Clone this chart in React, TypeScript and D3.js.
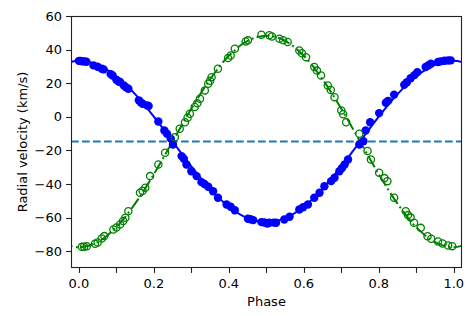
import { useEffect, useRef } from "react";
import * as d3 from "d3";

// observed points, primary star (filled blue)
const primaryPhase = [
  0.0, 0.005, 0.01, 0.015, 0.02, 0.039, 0.05, 0.061, 0.066, 0.085, 0.09, 0.1, 0.106, 0.11, 0.12, 0.126,
  0.132, 0.16, 0.165, 0.17, 0.182, 0.186, 0.212, 0.228, 0.235, 0.245, 0.251, 0.274, 0.28, 0.287, 0.3,
  0.314, 0.327, 0.335, 0.345, 0.358, 0.371, 0.394, 0.405, 0.416, 0.451, 0.458, 0.465, 0.487, 0.495,
  0.503, 0.508, 0.52, 0.526, 0.548, 0.562, 0.588, 0.598, 0.611, 0.628, 0.642, 0.655, 0.673, 0.682,
  0.695, 0.702, 0.709, 0.718, 0.748, 0.759, 0.765, 0.777, 0.801, 0.819, 0.825, 0.841, 0.868, 0.875,
  0.885, 0.895, 0.903, 0.925, 0.932, 0.939, 0.958, 0.965, 0.975, 0.985, 0.992,
];
const primaryRV = [
  33.3, 33.2, 33.0, 33.0, 32.8, 30.6, 29.8, 28.6, 28.2, 25.4, 24.6, 22.0, 21.0, 20.7, 18.6, 17.5,
  16.7, 9.8, 8.6, 7.8, 6.8, 6.4, -2.8, -8.1, -10.1, -13.0, -16.5, -23.4, -25.0, -28.4, -32.4,
  -35.3, -38.9, -40.0, -41.6, -44.3, -48.2, -52.2, -53.5, -55.6, -60.7, -61.0, -61.5, -62.7, -62.9,
  -63.5, -63.1, -63.0, -63.1, -61.1, -59.5, -55.2, -53.8, -52.2, -48.2, -45.2, -41.3, -38.3, -36.3,
  -32.4, -30.5, -28.4, -25.4, -16.5, -14.5, -8.1, -3.2, 2.2, 8.4, 9.5, 13.2, 19.1, 20.6,
  23.0, 24.8, 26.6, 29.6, 30.5, 31.6, 32.6, 33.0, 33.4, 33.5, 33.6,
];

// observed points, secondary star (open green)
const secondaryPhase = [
  0.008, 0.014, 0.021, 0.043, 0.05, 0.061, 0.068, 0.092, 0.1, 0.11, 0.118, 0.124, 0.132, 0.163, 0.17,
  0.177, 0.19, 0.212, 0.23, 0.256, 0.269, 0.283, 0.29, 0.296, 0.309, 0.316, 0.323, 0.336, 0.345,
  0.35, 0.354, 0.371, 0.398, 0.405, 0.416, 0.445, 0.451, 0.487, 0.508, 0.515, 0.535, 0.545, 0.557,
  0.588, 0.595, 0.606, 0.628, 0.635, 0.646, 0.664, 0.672, 0.682, 0.7, 0.705, 0.713, 0.748, 0.77,
  0.779, 0.801, 0.815, 0.823, 0.841, 0.872, 0.878, 0.885, 0.894, 0.912, 0.93, 0.94, 0.958, 0.97,
  0.985, 0.996,
];
const secondaryRV = [
  -77.4, -77.3, -77.0, -75.6, -74.8, -72.4, -71.0, -67.1, -65.9, -64.1, -62.0, -60.1, -56.2, -45.2, -44.0,
  -42.2, -35.3, -28.4, -21.4, -12.1, -7.1, -3.2, -0.5, 1.8, 5.8, 8.0, 10.8, 15.7, 19.7,
  21.5, 23.6, 28.6, 35.0, 36.5, 40.5, 44.8, 45.5, 48.9, 48.5, 47.8, 46.5, 45.6, 44.5,
  39.5, 37.8, 35.5, 29.6, 27.5, 24.6, 18.7, 16.0, 11.7, 3.8, 1.5, -3.2, -10.1, -20.4,
  -25.4, -33.3, -36.5, -38.3, -48.2, -56.2, -58.5, -60.0, -63.1, -66.1, -71.1, -72.6, -74.2, -75.4,
  -76.6, -77.0,
];

// fitted orbit curves
const modelPhase = [
  -0.05, 0.0, 0.05, 0.1, 0.15, 0.2, 0.25, 0.3, 0.35, 0.4, 0.45, 0.5, 0.55, 0.6, 0.65, 0.7, 0.75, 0.8,
  0.85, 0.9, 0.95, 1.0, 1.05,
];
const primaryModel = [
  30.9, 33.3, 30.9, 24.1, 13.5, 0.1, -14.7, -29.5, -42.9, -53.5, -60.3, -62.7, -60.3, -53.5, -42.9,
  -29.5, -14.7, 0.1, 13.5, 24.1, 30.9, 33.3, 30.9,
];
const secondaryModel = [
  -74.6, -77.7, -74.6, -65.7, -51.7, -34.2, -14.7, 4.8, 22.3, 36.3, 45.2, 48.3, 45.2, 36.3, 22.3,
  4.8, -14.7, -34.2, -51.7, -65.7, -74.6, -77.7, -74.6,
];
const systemicRV = -14.7;

const xTicks = [0, 0.1, 0.2, 0.3, 0.4, 0.5, 0.6, 0.7, 0.8, 0.9, 1.0];
const yTicks = [-80, -60, -40, -20, 0, 20, 40, 60];

const W = 474;
const H = 316;
const margin = { left: 71, right: 12, top: 16, bottom: 48 };

const App = () => {
  const svgRef = useRef<SVGSVGElement | null>(null);

  useEffect(() => {
    const svg = d3.select(svgRef.current);
    svg.selectAll("*").remove();

    const x = d3.scaleLinear().domain([-0.021, 1.022]).range([margin.left, W - margin.right]);
    const y = d3.scaleLinear().domain([-90, 60]).range([H - margin.bottom, margin.top]);

    const font = "DejaVu Sans, sans-serif";
    const fs = 13;

    svg
      .append("defs")
      .append("clipPath")
      .attr("id", "plot-clip")
      .append("rect")
      .attr("x", margin.left)
      .attr("y", margin.top)
      .attr("width", W - margin.left - margin.right)
      .attr("height", H - margin.top - margin.bottom);

    const plot = svg.append("g").attr("clip-path", "url(#plot-clip)");

    const line = d3
      .line<number>()
      .x((_, i) => x(modelPhase[i]))
      .y((d) => y(d))
      .curve(d3.curveCatmullRom);

    // primary model
    plot
      .append("path")
      .attr("d", line(primaryModel) || "")
      .attr("fill", "none")
      .attr("stroke", "blue")
      .attr("stroke-width", 2);

    // secondary model (dash-dot)
    plot
      .append("path")
      .attr("d", line(secondaryModel) || "")
      .attr("fill", "none")
      .attr("stroke", "green")
      .attr("stroke-width", 2)
      .attr("stroke-dasharray", "13,3.3,2,3.3");

    // systemic velocity
    plot
      .append("line")
      .attr("x1", margin.left)
      .attr("x2", W - margin.right)
      .attr("y1", y(systemicRV))
      .attr("y2", y(systemicRV))
      .attr("stroke", "#1f77b4")
      .attr("stroke-width", 2)
      .attr("stroke-dasharray", "7.7,3.3");

    plot
      .selectAll(".p1")
      .data(primaryPhase)
      .enter()
      .append("circle")
      .attr("cx", (d) => x(d))
      .attr("cy", (_, i) => y(primaryRV[i]))
      .attr("r", 4.2)
      .attr("fill", "blue");

    plot
      .selectAll(".p2")
      .data(secondaryPhase)
      .enter()
      .append("circle")
      .attr("cx", (d) => x(d))
      .attr("cy", (_, i) => y(secondaryRV[i]))
      .attr("r", 3.6)
      .attr("fill", "none")
      .attr("stroke", "green")
      .attr("stroke-width", 1.3);

    // frame
    svg
      .append("rect")
      .attr("x", margin.left + 0.5)
      .attr("y", margin.top + 0.5)
      .attr("width", W - margin.left - margin.right - 1)
      .attr("height", H - margin.top - margin.bottom - 1)
      .attr("fill", "none")
      .attr("stroke", "#222")
      .attr("stroke-width", 1.1);

    const xAxis = svg.append("g");
    xTicks.forEach((t, i) => {
      const px = Math.round(x(t)) + 0.5;
      xAxis
        .append("line")
        .attr("x1", px)
        .attr("x2", px)
        .attr("y1", H - margin.bottom)
        .attr("y2", H - margin.bottom + 4.9)
        .attr("stroke", "#222")
        .attr("stroke-width", 1.1);
      if (i % 2 === 0) {
        xAxis
          .append("text")
          .attr("x", x(t))
          .attr("y", 288)
          .attr("text-anchor", "middle")
          .attr("font-family", font)
          .attr("font-size", fs)
          .text(d3.format(".1f")(t));
      }
    });

    const yAxis = svg.append("g");
    yTicks.forEach((t) => {
      const py = Math.round(y(t)) + 0.5;
      yAxis
        .append("line")
        .attr("x1", margin.left - 4.9)
        .attr("x2", margin.left)
        .attr("y1", py)
        .attr("y2", py)
        .attr("stroke", "#222")
        .attr("stroke-width", 1.1);
      yAxis
        .append("text")
        .attr("x", 62)
        .attr("y", y(t))
        .attr("dy", "0.36em")
        .attr("text-anchor", "end")
        .attr("font-family", font)
        .attr("font-size", fs)
        .text(t < 0 ? `\u2212${Math.abs(t)}` : `${t}`);
    });

    svg
      .append("text")
      .attr("x", (margin.left + W - margin.right) / 2)
      .attr("y", 306)
      .attr("text-anchor", "middle")
      .attr("font-family", font)
      .attr("font-size", fs)
      .text("Phase");

    svg
      .append("text")
      .attr("transform", `translate(27, ${(margin.top + H - margin.bottom) / 2}) rotate(-90)`)
      .attr("text-anchor", "middle")
      .attr("font-family", font)
      .attr("font-size", fs)
      .text("Radial velocity (km/s)");
  }, []);

  return (
    <div style={{ position: "absolute", left: 0, top: 0 }}>
      <svg ref={svgRef} width={W} height={H} style={{ display: "block", background: "#fff" }} />
    </div>
  );
};

export default App;
